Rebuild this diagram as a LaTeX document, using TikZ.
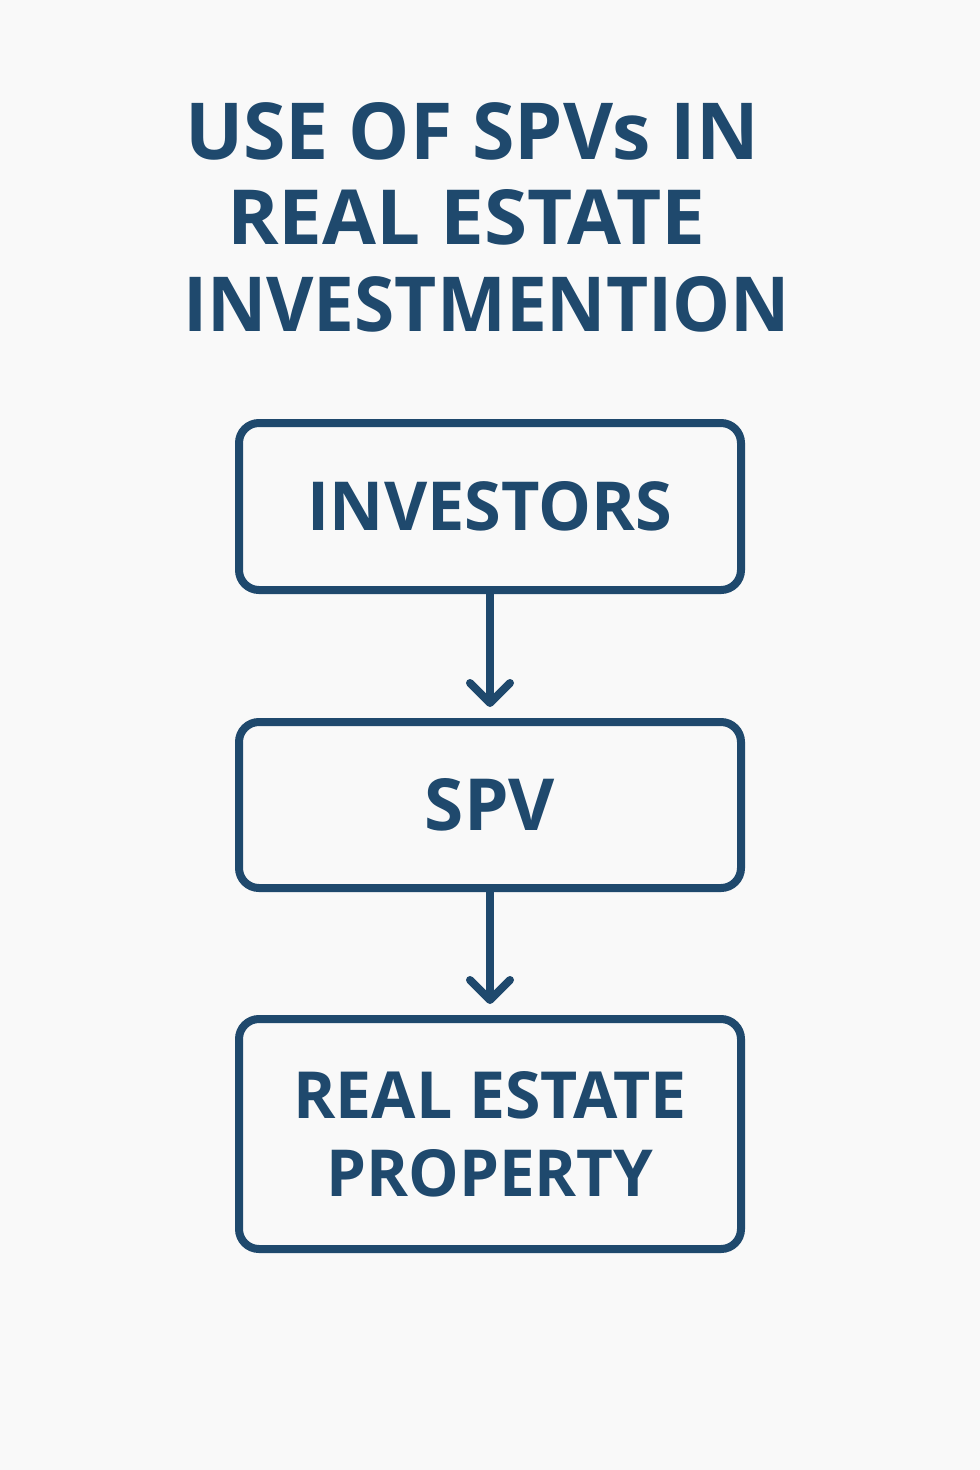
\documentclass[tikz,border=0pt]{standalone}
\usepackage{fontspec}
\setmainfont{Open Sans}
\newfontfamily\titlefont{Open Sans Bold}
\newfontfamily\boxfont{Open Sans Bold}
\usetikzlibrary{arrows.meta}
\definecolor{navy}{HTML}{1F496D}
\definecolor{bg}{HTML}{F9F9F9}
\tikzset{
  stepbox/.style={draw=navy, line width=8pt, rounded corners=20pt, fill=bg,
    minimum width=502pt, inner sep=0pt, outer sep=0pt, text=navy,
    align=center, font=\boxfont},
  titletext/.style={anchor=south west, inner sep=0pt, outer sep=0pt,
    text=navy, font=\titlefont},
  flow/.style={draw=navy, line width=8pt,
    -{Straight Barb[length=20pt, width=40pt, round]}, shorten >=15pt}
}
\begin{document}
\begin{tikzpicture}[x=1pt, y=-1pt]
\path[fill=bg, use as bounding box] (0,0) rectangle (980,1470);
% title
\node[titletext] (t1) at (185,160) {\resizebox{574pt}{57pt}{USE OF SPVs IN}};
\node[titletext] (t2) at (227,245) {\resizebox{478pt}{55pt}{REAL ESTATE}};
\node[titletext] (t3) at (183,332) {\resizebox{607pt}{55pt}{INVESTMENTION}};
% boxes
\node[stepbox, minimum height=167pt] (inv) at (490,506.5)
  {\resizebox{364pt}{49pt}{INVESTORS}};
\node[stepbox, minimum height=166pt] (spv) at (490,805)
  {\resizebox{130pt}{52pt}{SPV}};
\node[stepbox, minimum height=230pt] (rep) at (490,1134)
  {\resizebox{393pt}{47pt}{REAL ESTATE}\\[29pt]\resizebox{327pt}{47pt}{PROPERTY}};
% connectors
\draw[flow] (inv.south) -- (spv.north);
\draw[flow] (spv.south) -- (rep.north);
\end{tikzpicture}
\end{document}
